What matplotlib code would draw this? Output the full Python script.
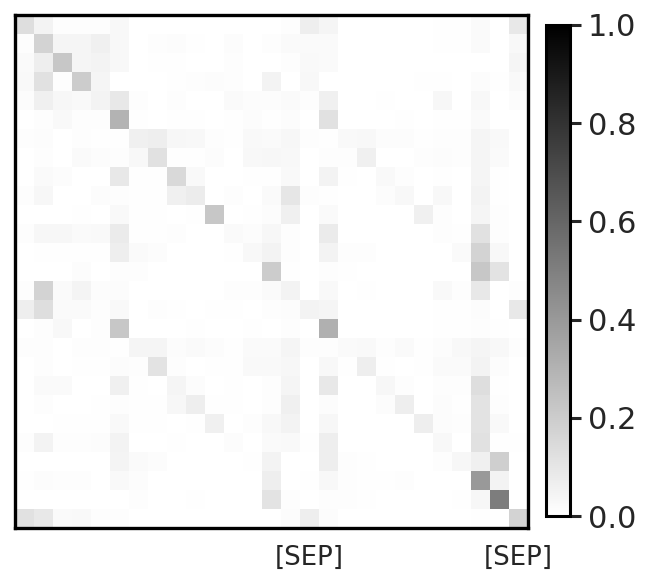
import matplotlib
matplotlib.use("Agg")
import matplotlib.pyplot as plt
import numpy as np

# attention weights (one row per token)
weights = [
    [.13,.05,.01,.01,.01,.03,0,0,0,0,0,0,0,0,.01,.07,.04,0,0,0,0,0,.005,.005,.02,0,.09],
    [.01,.17,.04,.04,.06,.03,0,.01,.015,.005,0,.015,0,.01,.02,.02,.02,0,0,0,0,0,.005,.005,.02,0,.03],
    [.02,.07,.22,.04,.05,.03,0,.005,.005,0,0,.01,0,0,.01,.025,.02,0,0,0,0,0,0,0,0,0,.04],
    [.025,.12,.01,.2,.04,0,0,0,.005,.01,.015,.01,0,.05,0,.03,0,0,0,0,0,.005,.005,0,.015,.005,.025],
    [.015,.06,.035,.025,.05,.09,.01,0,.01,0,0,.02,.015,.015,.02,.01,.06,0,0,.005,0,0,.035,0,.03,0,.015],
    [0,.01,.025,.01,.01,.3,.005,0,.005,.005,0,.005,.015,.005,.015,0,.12,0,0,0,.005,0,.005,.005,.02,0,0],
    [.01,.015,0,.01,.005,.005,.06,.07,.035,.03,.01,.005,.025,.02,.035,.01,.005,.025,.03,.015,.015,.005,.01,.01,.04,.025,0],
    [0,.01,0,.02,.015,.01,.03,.12,.005,.005,.015,0,.03,.035,.03,0,.01,.01,.06,0,0,.01,.015,.01,.04,.02,0],
    [0,.02,.015,0,0,.09,.005,.005,.15,.025,0,0,.005,.005,.025,0,.05,.005,0,.025,.01,0,.005,0,.04,.005,0],
    [.01,.035,0,0,.015,.01,.005,.005,.06,.075,0,.01,0,.02,.1,.01,.005,0,0,.015,.03,0,.03,0,.05,.005,0],
    [0,0,0,.005,0,.025,.005,.005,0,.005,.22,0,.005,.015,.06,0,.02,.002,.002,.002,.002,.06,.01,0,.04,.01,0],
    [.01,.035,.035,.02,.025,.08,.005,.005,.01,0,0,.02,.015,.035,.01,0,.08,0,0,0,0,0,.01,.005,.12,.01,0],
    [0,.005,.005,.005,.005,.07,.02,.015,0,0,0,.005,.03,.05,.01,0,.05,.01,.01,0,0,0,0,.02,.17,.03,0],
    [0,0,0,.015,0,.01,.01,0,0,0,0,0,0,.2,.005,0,.01,.005,0,0,0,0,0,0,.22,.11,0],
    [.01,.17,.02,.045,.015,.015,0,0,0,0,0,.01,.01,.02,.05,0,.025,0,.005,0,0,0,.025,.01,.09,0,.01],
    [.07,.13,.02,.02,.01,.025,0,.01,.005,0,.005,.005,0,.01,.015,.05,.04,0,0,0,0,0,.005,.005,.015,0,.09],
    [0,.01,.03,0,.01,.22,0,0,0,.005,0,0,.005,0,.01,0,.31,0,0,0,0,0,.005,.005,.01,.005,0],
    [.01,.01,0,.01,.01,.005,.04,.04,.015,.02,.015,.005,.02,.02,.04,.01,.01,.02,.025,.01,.02,.005,.015,.03,.04,.03,.01],
    [0,.01,0,.005,.005,.015,.01,.11,.01,0,.005,.005,.025,.025,.035,0,.03,.005,.07,.005,0,.005,.02,.02,.05,.015,0],
    [0,.02,.02,0,0,.06,.005,0,.04,.015,0,.005,0,.01,.04,0,.09,0,0,.035,.01,0,.01,.01,.13,.005,0],
    [0,.01,0,0,.005,.01,.005,.005,.035,.07,.005,.005,0,.01,.06,0,.015,0,0,.015,.07,0,.015,.005,.11,.01,0],
    [0,0,.005,.005,.005,.025,.005,.005,0,.005,.06,0,.01,.03,.05,0,.035,0,0,0,0,.07,.015,.01,.11,.025,0],
    [.01,.05,.01,.01,.015,.05,.002,.002,.005,.002,0,.015,0,.02,.025,.005,.07,0,0,0,0,0,.03,0,.12,.005,.005],
    [0,0,0,0,0,.045,.02,.015,0,0,0,0,.005,.05,0,0,.07,.01,.005,0,0,0,.01,.035,.06,.19,0],
    [.005,.015,.01,.01,0,.025,.015,0,0,0,0,0,0,.07,0,.005,.03,.01,.005,.005,.01,0,0,0,.4,.05,0],
    [0,0,0,0,0,0,.01,0,0,.005,0,0,0,.11,.01,0,.01,.01,.005,0,.002,0,0,.005,.035,.51,0],
    [.12,.09,.02,.025,.01,.01,0,.002,0,0,0,0,0,0,.015,.07,.015,0,0,0,0,0,0,0,.005,0,.17],
]
sep_cols = [15, 26]
sep_labels = ["[SEP]", "[SEP]"]
cbar_ticks = [0.0, 0.2, 0.4, 0.6, 0.8, 1.0]

W, H = 650, 587
fig = plt.figure(figsize=(W / 100, H / 100), dpi=100)
ax = fig.add_axes([15 / W, 1 - 528 / H, 513 / W, 513 / H])
cax = fig.add_axes([546 / W, 1 - 516 / H, 24 / W, 491 / H])

im = ax.imshow(np.array(weights), cmap="gray_r", vmin=0, vmax=1, aspect="auto", interpolation="nearest")
ax.set_yticks([])
ax.set_xticks(sep_cols)
ax.set_xticklabels(sep_labels, fontsize=18.7, color="#262626")
ax.tick_params(axis="x", length=0, pad=12)
for s in ax.spines.values():
    s.set_linewidth(2.4)

cb = fig.colorbar(im, cax=cax)
cb.set_ticks(cbar_ticks)
cb.ax.tick_params(labelsize=22, length=8, width=2.2, pad=5, color="#262626", labelcolor="#262626")
cb.outline.set_linewidth(2.2)

fig.savefig("out.png", dpi=100)
